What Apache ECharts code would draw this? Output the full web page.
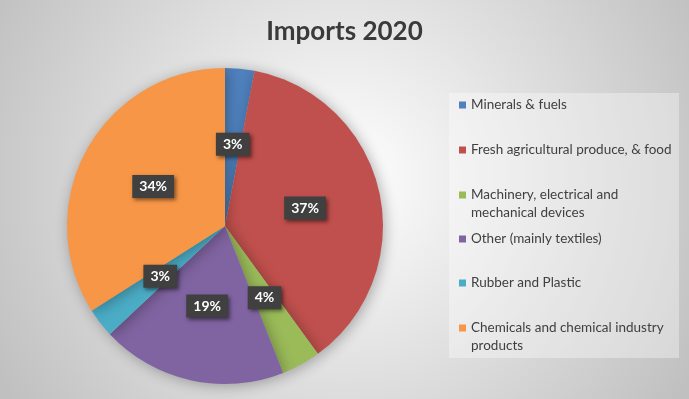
<!DOCTYPE html>
<html>
<head>
<meta charset="utf-8">
<script src="https://cdn.jsdelivr.net/npm/echarts@6/dist/echarts.min.js"></script>
<style>
  html, body { margin: 0; padding: 0; }
  #chart { width: 689px; height: 399px; }
</style>
</head>
<body>
<div id="chart"></div>
<script>
// imports 2020 data
var categories = [
  'Minerals & fuels',
  'Fresh agricultural produce, & food',
  'Machinery, electrical and mechanical devices',
  'Other (mainly textiles)',
  'Rubber and Plastic',
  'Chemicals and chemical industry products'
];
var shares = [3, 37, 4, 19, 3, 34];
// a leading empty line keeps the marker on the first line of wrapped entries
var legendLabels = [
  'Minerals & fuels',
  'Fresh agricultural produce, & food',
  '\nMachinery, electrical and\nmechanical devices',
  'Other (mainly textiles)',
  'Rubber and Plastic',
  '\nChemicals and chemical industry\nproducts'
];
var colors = ['#4F81BD', '#C0504D', '#9BBB59', '#8064A2', '#4BACC6', '#F79646'];

var legendTops = [91, 136, 163, 225, 269, 296];

var chartDom = document.getElementById('chart');
var myChart = echarts.init(chartDom);
var option;

var legends = categories.map(function (name, i) {
  return {
    left: 454,
    top: legendTops[i],
    orient: 'vertical',
    itemWidth: 7,
    itemHeight: 7,
    icon: 'rect',
    selectedMode: false,
    data: [name],
    formatter: function () { return legendLabels[i]; },
    textStyle: {
      fontFamily: 'Lato',
      fontSize: 13.5,
      color: '#404040',
      lineHeight: 18
    }
  };
});

option = {
  backgroundColor: {
    type: 'radial', x: 0.5, y: 0.45, r: 1,
    colorStops: [
      { offset: 0, color: '#ffffff' },
      { offset: 1, color: '#c0c0c0' }
    ]
  },
  color: colors,
  title: {
    text: 'Imports 2020',
    left: 'center',
    top: 14,
    textStyle: {
      fontFamily: 'Lato',
      fontSize: 26,
      fontWeight: 'bold',
      color: '#3a3a3a'
    }
  },
  graphic: [{
    type: 'rect',
    shape: { x: 449, y: 93, width: 230, height: 265 },
    style: { fill: 'rgba(255,255,255,0.35)' },
    z: 0
  }],
  legend: legends,
  series: [
    {
      name: 'Imports 2020',
      type: 'pie',
      center: [225, 226],
      radius: [0, 158],
      startAngle: 90,
      clockwise: true,
      animation: false,
      itemStyle: {
        shadowBlur: 14,
        shadowColor: 'rgba(0,0,0,0.3)',
        shadowOffsetX: 2,
        shadowOffsetY: 2
      },
      label: {
        show: true,
        position: 'inside',
        formatter: '{c}%',
        fontFamily: 'Lato',
        fontSize: 14,
        fontWeight: 'bold',
        color: '#ffffff',
        backgroundColor: '#404040',
        padding: [5, 7, 4, 7],
        shadowBlur: 4,
        shadowColor: 'rgba(0,0,0,0.5)',
        shadowOffsetX: 2,
        shadowOffsetY: 2
      },
      labelLine: { show: false },
      data: categories.map(function (name, i) {
        return { name: name, value: shares[i] };
      })
    }
  ]
};

option && myChart.setOption(option);
</script>
</body>
</html>
